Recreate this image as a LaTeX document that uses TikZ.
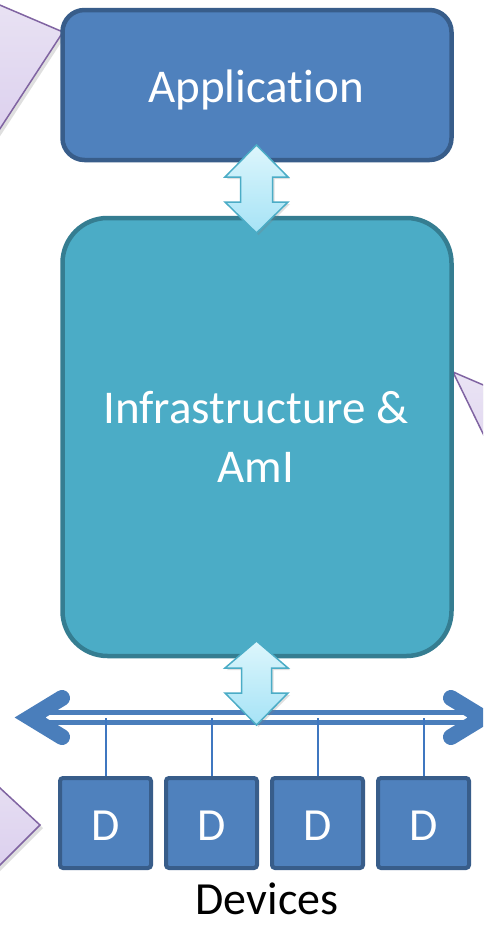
\documentclass[tikz,border=0pt]{standalone}
\usepackage{fontspec}
\setmainfont{Carlito}[Ligatures=NoCommon]
\usetikzlibrary{shadows}
\definecolor{appfill}{HTML}{4F81BD}
\definecolor{appborder}{HTML}{385D8A}
\definecolor{infrafill}{HTML}{4BACC6}
\definecolor{infraborder}{HTML}{357D91}
\definecolor{arrowborder}{HTML}{4BACC6}
\definecolor{arrowtop}{HTML}{DDF6FC}
\definecolor{arrowbot}{HTML}{A6E3F6}
\definecolor{callfilltop}{HTML}{EAE4F4}
\definecolor{callfillbot}{HTML}{D7C9EC}
\definecolor{callborder}{HTML}{8064A2}
\definecolor{buscol}{HTML}{4A7EBB}
\definecolor{dropcol}{HTML}{3F77C0}
\tikzset{
  appbox/.style={draw=appborder, fill=appfill, line width=4.5pt, rounded corners=22pt,
    minimum width=389pt, minimum height=150pt, inner sep=0pt},
  infrabox/.style={draw=infraborder, fill=infrafill, line width=4.5pt, rounded corners=45pt,
    minimum width=389pt, minimum height=438pt, inner sep=0pt},
  devbox/.style={draw=appborder, fill=appfill, line width=4pt, rounded corners=3pt,
    minimum width=91pt, minimum height=90pt, inner sep=0pt},
  whitetext/.style={text=white, inner sep=0pt},
  udarrow/.style={draw=arrowborder, line width=1.5pt, top color=arrowtop, bottom color=arrowbot,
    line join=miter, drop shadow={opacity=0.25, shadow xshift=2pt, shadow yshift=-2pt}},
  callout/.style={draw=callborder, line width=1.5pt, top color=callfilltop, bottom color=callfillbot,
    drop shadow={opacity=0.25, shadow xshift=3pt, shadow yshift=-3pt}},
  busline/.style={draw=buscol, line width=5pt, double=white, double distance=5pt},
  chevron/.style={draw=buscol, line width=16pt, line cap=round, line join=miter},
  dropline/.style={draw=dropcol, line width=2pt},
}
\begin{document}
\begin{tikzpicture}[x=1pt, y=-1pt]
\useasboundingbox (0,0) rectangle (483,926);
\fill[white] (0,0) rectangle (483,926);
\clip (0,0) rectangle (483,926);

% callouts (partly outside the picture)
\path[callout] (-40,-12) -- (63,32) -- (-40,190) -- cycle;
\path[callout] (-40,751) -- (40,825) -- (-40,905) -- cycle;
\path[callout] (453,372) -- (530,405) -- (530,530) -- cycle;

% main boxes
\node[appbox] (app) at (257,85) {};
\node[whitetext, anchor=base, font=\fontsize{47}{56}\selectfont] (apptext) at (256,102) {Application};

\node[infrabox] (infra) at (257,437) {};
\node[whitetext, align=center, font=\fontsize{47}{59}\selectfont] (infratext) at (256,437) {Infrastructure \&\\AmI};

% bus
\coordinate (busl) at (45,717.5);
\coordinate (busr) at (469,717.5);
\draw[busline] (busl) -- (busr);
\coordinate (cl1) at (62,698);
\coordinate (cl0) at (30,717.5);
\coordinate (cl2) at (62,737);
\coordinate (cr1) at (451,698);
\coordinate (cr0) at (483,717.5);
\coordinate (cr2) at (451,737);
\draw[chevron] (cl1) -- (cl0) -- (cl2);
\draw[chevron] (cr1) -- (cr0) -- (cr2);

% devices
\foreach \i/\x in {1/105.5, 2/211.5, 3/317.5, 4/423.5} {
  \coordinate (t\i) at (\x,718);
  \node[devbox] (d\i) at (\x,823) {};
  \draw[dropline] (t\i) -- (d\i.north);
  \node[whitetext, anchor=base, font=\fontsize{46}{55}\selectfont] (dl\i) at (\x,840) {D};
}
\node[anchor=base, inner sep=0pt, font=\fontsize{46}{55}\selectfont] (devlabel) at (267,914) {Devices};

% up-down block arrows
\coordinate (ua) at (256.5,145);
\draw[udarrow] (ua) -- ++(31.5,32) -- ++(-15.5,0) -- ++(0,25) -- ++(15.5,0) -- ++(-31.5,31)
  -- ++(-31.5,-31) -- ++(15.5,0) -- ++(0,-25) -- ++(-15.5,0) -- cycle;
\coordinate (la) at (256.5,641);
\draw[udarrow] (la) -- ++(31.5,27) -- ++(-16.5,0) -- ++(0,25) -- ++(16.5,0) -- ++(-31.5,32)
  -- ++(-31.5,-32) -- ++(16.5,0) -- ++(0,-25) -- ++(-16.5,0) -- cycle;
\end{tikzpicture}
\end{document}
